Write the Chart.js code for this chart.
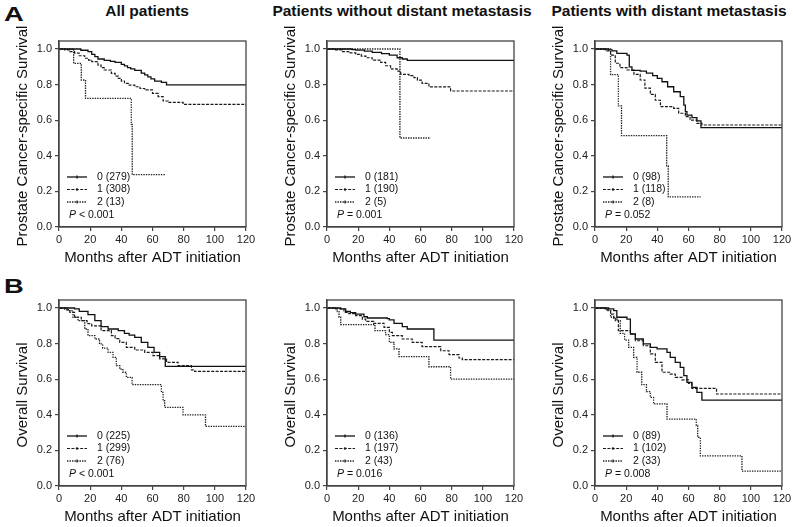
<!DOCTYPE html>
<html>
<head>
<meta charset="utf-8">
<script src="https://cdn.jsdelivr.net/npm/chart.js@4.4.1/dist/chart.umd.min.js"></script>
<style>
  body { margin: 0; width: 793px; height: 527px; background: #fff; position: relative; overflow: hidden;
         font-family: "Liberation Sans", Arial, sans-serif; color: #111; }
  canvas { position: absolute; }
  .ttl { position: absolute; font-weight: bold; font-size: 15.5px; line-height: 15px; white-space: nowrap; transform: translateX(-50%); }
  .letter { position: absolute; font-weight: bold; font-size: 21px; line-height: 21px; transform: scaleX(1.3); transform-origin: left top; }
</style>
</head>
<body>
<div class="letter" style="left:4px;top:3px">A</div>
<div class="letter" style="left:4px;top:275px">B</div>
<div id="titles"></div>

<canvas id="c0" width="248" height="245" style="left:10px;top:23px"></canvas>
<canvas id="c1" width="248" height="245" style="left:278px;top:23px"></canvas>
<canvas id="c2" width="248" height="245" style="left:546px;top:23px"></canvas>
<canvas id="c3" width="248" height="245" style="left:10px;top:282px"></canvas>
<canvas id="c4" width="248" height="245" style="left:278px;top:282px"></canvas>
<canvas id="c5" width="248" height="245" style="left:546px;top:282px"></canvas>

<script>
const xTicks = [0, 20, 40, 60, 80, 100, 120];
const yTicks = [0, 0.2, 0.4, 0.6, 0.8, 1.0];
const groupNames = ['0', '1', '2'];
const columnTitles = ['All patients', 'Patients without distant metastasis', 'Patients with distant metastasis'];
const rowTitles = ['Prostate Cancer-specific Survival', 'Overall Survival'];
const xTitle = 'Months after ADT initiation';

// [months, survival] steps
// A: prostate cancer-specific survival
const pcssAll0 = [[0,1],[14,0.993],[18.6,0.985],[21,0.97],[23,0.957],[25,0.944],[29,0.936],[33,0.93],[36,0.925],[40,0.914],[42,0.905],[44,0.895],[46,0.888],[48.6,0.88],[52.8,0.865],[55,0.855],[57,0.843],[59,0.832],[61.4,0.82],[65.7,0.813],[69,0.798],[120,0.798]];
const pcssAll1 = [[0,1],[3.7,0.995],[7,0.985],[10,0.977],[13,0.962],[16.5,0.948],[19,0.938],[21,0.929],[25,0.91],[27,0.895],[29,0.882],[33.6,0.863],[36,0.848],[38,0.835],[40,0.82],[42,0.807],[45,0.797],[48.6,0.788],[52,0.778],[55,0.77],[60,0.751],[63.6,0.732],[66.8,0.708],[70,0.7],[79.6,0.689],[120,0.689]];
const pcssAll2 = [[0,1],[9.4,0.919],[14.3,0.826],[17,0.723],[46.4,0.577],[47,0.294],[68,0.294]];
const pcssNoMet0 = [[0,1],[16,0.997],[18.4,0.994],[24,0.988],[29,0.981],[35,0.974],[40,0.966],[45,0.951],[48.3,0.944],[51.5,0.936],[120,0.936]];
const pcssNoMet1 = [[0,1],[5.5,0.995],[10,0.985],[14,0.978],[18.4,0.97],[22,0.96],[25,0.951],[29,0.938],[34.4,0.925],[37.6,0.906],[40.8,0.888],[45,0.876],[47.3,0.858],[52.6,0.85],[55.8,0.839],[58,0.825],[61,0.807],[65.4,0.787],[79.3,0.764],[120,0.764]];
const pcssNoMet2 = [[0,1],[46.8,0.5],[66.5,0.5]];
const pcssMet0 = [[0,1],[8.8,0.995],[11,0.99],[14,0.976],[20.5,0.966],[22,0.9],[23.7,0.88],[29,0.876],[33,0.865],[37,0.85],[40,0.835],[43,0.816],[46.6,0.788],[50.5,0.76],[54.7,0.732],[57,0.685],[58,0.648],[59,0.629],[62.2,0.614],[65.4,0.596],[68,0.558],[120,0.558]];
const pcssMet1 = [[0,1],[6.6,0.99],[10,0.966],[13,0.92],[16,0.895],[20.5,0.882],[25,0.858],[29,0.826],[32,0.78],[35.5,0.745],[38.7,0.712],[42,0.676],[50.5,0.667],[53.7,0.639],[58,0.62],[61,0.6],[65.4,0.582],[68.6,0.573],[120,0.573]];
const pcssMet2 = [[0,1],[10,0.856],[15,0.68],[17,0.513],[46,0.343],[47,0.169],[67.8,0.169]];
// B: overall survival
const osAll0 = [[0,1],[10,0.995],[13,0.981],[18.6,0.963],[23,0.929],[27,0.895],[31.5,0.882],[38,0.873],[42,0.858],[45,0.848],[48.6,0.835],[52.8,0.807],[57,0.779],[61,0.751],[64.6,0.727],[68.2,0.672],[120,0.672]];
const osAll1 = [[0,1],[3.7,0.99],[7,0.976],[10,0.948],[14.3,0.929],[18,0.912],[21,0.9],[27,0.873],[33.6,0.845],[36,0.828],[39,0.807],[43.2,0.779],[48.6,0.764],[55,0.751],[60.3,0.732],[64.6,0.714],[69,0.695],[76.4,0.676],[85,0.652],[87,0.644],[120,0.644]];
const osAll2 = [[0,1],[5.8,0.985],[9,0.948],[12.2,0.929],[16.5,0.882],[18.6,0.845],[23,0.826],[26,0.798],[28,0.775],[31.5,0.751],[34.7,0.723],[36.8,0.676],[39,0.657],[41,0.639],[43.2,0.61],[46.9,0.569],[65.7,0.526],[66.8,0.479],[67.8,0.442],[79.6,0.4],[94,0.335],[120,0.335]];
const osNoMet0 = [[0,1],[8.8,0.995],[12,0.981],[15,0.974],[18.4,0.966],[23.7,0.951],[25.9,0.944],[38.7,0.94],[40,0.933],[43,0.914],[48.3,0.895],[51.5,0.882],[68.6,0.82],[120,0.82]];
const osNoMet1 = [[0,1],[5.5,0.995],[10.9,0.976],[14,0.968],[18.4,0.957],[22.7,0.938],[24.8,0.925],[30,0.914],[36.6,0.891],[40,0.863],[42,0.845],[48.3,0.826],[54.7,0.807],[61,0.783],[73,0.76],[78.3,0.738],[84.7,0.719],[86.8,0.71],[120,0.71]];
const osNoMet2 = [[0,1],[6.6,0.98],[7.7,0.948],[8.8,0.907],[30.8,0.873],[37.6,0.85],[40,0.807],[43,0.77],[46.2,0.727],[65.4,0.67],[79.3,0.6],[120,0.6]];
const osMet0 = [[0,1],[8.8,0.995],[12,0.985],[14,0.948],[20.5,0.938],[22.7,0.854],[25.9,0.826],[31,0.798],[35.5,0.779],[39.8,0.77],[46.2,0.751],[48.3,0.723],[51.5,0.695],[54.7,0.667],[57,0.62],[59,0.582],[62.2,0.554],[65.4,0.526],[68.6,0.483],[120,0.483]];
const osMet1 = [[0,1],[6.6,0.99],[10,0.966],[12,0.938],[15,0.873],[22.7,0.854],[25.9,0.816],[31,0.788],[35.5,0.742],[38.7,0.695],[43,0.639],[48.3,0.629],[51.5,0.61],[55.8,0.596],[60,0.577],[62.2,0.548],[78,0.517],[120,0.517]];
const osMet2 = [[0,1],[7.7,0.985],[10,0.948],[13,0.929],[16.2,0.858],[19,0.82],[21.6,0.779],[24.8,0.723],[27,0.639],[30,0.569],[33,0.53],[35.5,0.498],[37.6,0.461],[46.2,0.376],[65,0.34],[65.9,0.273],[67.6,0.169],[94.3,0.084],[120,0.084]];

const counts = [[279, 308, 13], [181, 190, 5], [98, 118, 8], [225, 299, 76], [136, 197, 43], [89, 102, 33]];
const pValues = ['< 0.001', '= 0.001', '= 0.052', '< 0.001', '= 0.016', '= 0.008'];
const curves = [
  [pcssAll0, pcssAll1, pcssAll2], [pcssNoMet0, pcssNoMet1, pcssNoMet2], [pcssMet0, pcssMet1, pcssMet2],
  [osAll0, osAll1, osAll2], [osNoMet0, osNoMet1, osNoMet2], [osMet0, osMet1, osMet2]
];

const FONT = '"Liberation Sans", Arial, sans-serif';
Chart.defaults.font.family = FONT;

const lineStyles = [
  { dash: [], width: 1.3, color: '#111' },
  { dash: [3, 1.4], width: 1.2, color: '#1a1a1a' },
  { dash: [1.4, 1.1], width: 1.3, color: '#222' }
];

// column titles
const titleCenters = [147, 402, 669];
const titles = document.getElementById('titles');
columnTitles.forEach((t, i) => {
  const d = document.createElement('div');
  d.className = 'ttl';
  d.style.left = titleCenters[i] + 'px';
  d.style.top = '3px';
  d.textContent = t;
  titles.appendChild(d);
});

// frame, y title and legend drawn by hand
const kmLegend = {
  id: 'kmLegend',
  afterDraw(chart, args, o) {
    const { ctx, chartArea: a } = chart;
    ctx.save();
    ctx.setLineDash([]);
    ctx.strokeStyle = '#444';
    ctx.lineWidth = 1.3;
    ctx.strokeRect(a.left, a.top, a.right - a.left, a.bottom - a.top);

    // y axis title (Chart.js would truncate the long one)
    ctx.save();
    ctx.translate(12.5, (a.top + a.bottom) / 2 + 2);
    ctx.rotate(-Math.PI / 2);
    ctx.font = '15px ' + FONT;
    ctx.fillStyle = '#111';
    ctx.textAlign = 'center';
    ctx.textBaseline = 'middle';
    ctx.fillText(o.yTitle, 0, 0);
    ctx.restore();

    ctx.font = '10.5px ' + FONT;
    ctx.textBaseline = 'middle';
    ctx.fillStyle = '#111';
    o.counts.forEach((n, i) => {
      const y = a.bottom - 50 + i * 12.5;
      const st = lineStyles[i];
      ctx.strokeStyle = st.color;
      ctx.lineWidth = st.width;
      ctx.setLineDash(st.dash);
      ctx.beginPath(); ctx.moveTo(a.left + 8, y); ctx.lineTo(a.left + 28, y); ctx.stroke();
      ctx.setLineDash([]);
      ctx.beginPath(); ctx.moveTo(a.left + 18, y - 1.5); ctx.lineTo(a.left + 18, y + 1.5); ctx.stroke();
      ctx.fillText(groupNames[i] + ' (' + n + ')', a.left + 38, y);
    });
    const py = a.bottom - 12;
    ctx.font = 'italic 10.5px ' + FONT;
    ctx.fillText('P', a.left + 10, py);
    const w = ctx.measureText('P').width;
    ctx.font = '10.5px ' + FONT;
    ctx.fillText(' ' + o.p, a.left + 10 + w, py);
    ctx.restore();
  }
};

const charts = [];
curves.forEach((set, k) => {
  const ctx = document.getElementById('c' + k).getContext('2d');
  charts.push(new Chart(ctx, {
    type: 'line',
    data: {
      datasets: set.map((d, i) => ({
        label: groupNames[i],
        data: d,
        stepped: true,
        borderColor: lineStyles[i].color,
        borderWidth: lineStyles[i].width,
        borderDash: lineStyles[i].dash,
        pointRadius: 0,
        fill: false
      }))
    },
    options: {
      responsive: false,
      animation: false,
      devicePixelRatio: 1,
      layout: { padding: { top: 18, right: 12, left: 0, bottom: 0 } },
      plugins: {
        legend: { display: false },
        tooltip: { enabled: false },
        kmLegend: { counts: counts[k], p: pValues[k], yTitle: rowTitles[k < 3 ? 0 : 1] }
      },
      scales: {
        x: {
          type: 'linear', min: 0, max: 120,
          afterBuildTicks: s => { s.ticks = xTicks.map(v => ({ value: v })); },
          afterFit: s => { s.height = 41; s.paddingLeft = 0; s.paddingRight = 0; },
          ticks: { font: { size: 11 }, color: '#222', padding: 2, maxRotation: 0 },
          grid: { display: true, drawOnChartArea: false, tickLength: 4, color: '#444', lineWidth: 1.2 },
          border: { display: true, color: '#444', width: 1.3 },
          title: { display: true, text: xTitle, font: { size: 15 }, color: '#111', padding: { top: 0, bottom: 1 } }
        },
        y: {
          type: 'linear', min: 0, max: 1.045,
          afterBuildTicks: s => { s.ticks = yTicks.map(v => ({ value: v })); },
          afterFit: s => { s.width = 49; s.paddingTop = 0; s.paddingBottom = 0; },
          ticks: { font: { size: 11 }, color: '#222', padding: 3, callback: v => v.toFixed(1) },
          grid: { display: true, drawOnChartArea: false, tickLength: 4, color: '#444', lineWidth: 1.2 },
          border: { display: true, color: '#444', width: 1.3 },
          title: { display: false }
        }
      }
    },
    plugins: [kmLegend]
  }));
});
</script>
</body>
</html>
